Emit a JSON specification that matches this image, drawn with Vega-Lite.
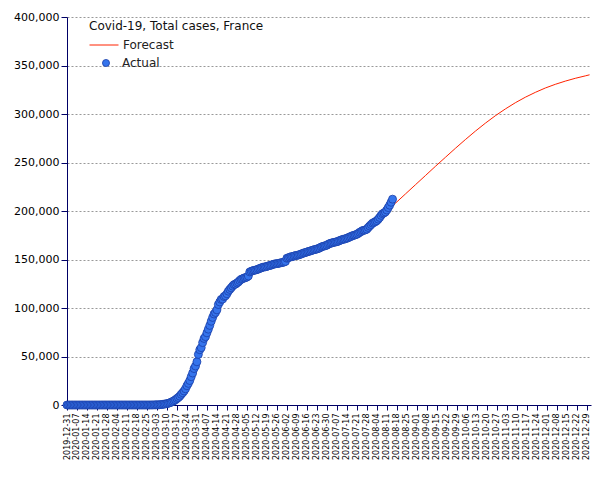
{
  "$schema": "https://vega.github.io/schema/vega-lite/v6.json",
  "width": 524,
  "height": 388,
  "autosize": {"type": "none"},
  "padding": {"left": 67, "top": 17, "right": 14, "bottom": 75},
  "background": "white",
  "config": {"view": {"stroke": null}, "font": "DejaVu Sans"},
  "datasets": {
    "actual": [
      {"date":"2019-12-31","cases":0},{"date":"2020-01-01","cases":0},{"date":"2020-01-02","cases":0},{"date":"2020-01-03","cases":0},{"date":"2020-01-04","cases":0},{"date":"2020-01-05","cases":0},{"date":"2020-01-06","cases":0},{"date":"2020-01-07","cases":0},{"date":"2020-01-08","cases":0},{"date":"2020-01-09","cases":0},{"date":"2020-01-10","cases":0},{"date":"2020-01-11","cases":0},{"date":"2020-01-12","cases":0},{"date":"2020-01-13","cases":0},{"date":"2020-01-14","cases":0},{"date":"2020-01-15","cases":0},{"date":"2020-01-16","cases":0},{"date":"2020-01-17","cases":0},{"date":"2020-01-18","cases":0},{"date":"2020-01-19","cases":0},{"date":"2020-01-20","cases":0},{"date":"2020-01-21","cases":0},{"date":"2020-01-22","cases":0},{"date":"2020-01-23","cases":0},{"date":"2020-01-24","cases":0},
      {"date":"2020-01-25","cases":3},{"date":"2020-01-26","cases":3},{"date":"2020-01-27","cases":3},{"date":"2020-01-28","cases":3},{"date":"2020-01-29","cases":4},{"date":"2020-01-30","cases":5},{"date":"2020-01-31","cases":6},
      {"date":"2020-02-01","cases":6},{"date":"2020-02-02","cases":6},{"date":"2020-02-03","cases":6},{"date":"2020-02-04","cases":6},{"date":"2020-02-05","cases":6},{"date":"2020-02-06","cases":6},{"date":"2020-02-07","cases":6},{"date":"2020-02-08","cases":11},{"date":"2020-02-09","cases":11},{"date":"2020-02-10","cases":11},{"date":"2020-02-11","cases":11},{"date":"2020-02-12","cases":11},{"date":"2020-02-13","cases":11},{"date":"2020-02-14","cases":11},{"date":"2020-02-15","cases":12},{"date":"2020-02-16","cases":12},{"date":"2020-02-17","cases":12},{"date":"2020-02-18","cases":12},{"date":"2020-02-19","cases":12},{"date":"2020-02-20","cases":12},{"date":"2020-02-21","cases":12},{"date":"2020-02-22","cases":12},{"date":"2020-02-23","cases":12},{"date":"2020-02-24","cases":12},{"date":"2020-02-25","cases":12},{"date":"2020-02-26","cases":14},{"date":"2020-02-27","cases":18},{"date":"2020-02-28","cases":38},{"date":"2020-02-29","cases":57},
      {"date":"2020-03-01","cases":100},{"date":"2020-03-02","cases":130},{"date":"2020-03-03","cases":191},{"date":"2020-03-04","cases":212},{"date":"2020-03-05","cases":285},{"date":"2020-03-06","cases":423},{"date":"2020-03-07","cases":613},{"date":"2020-03-08","cases":949},{"date":"2020-03-09","cases":1126},{"date":"2020-03-10","cases":1412},{"date":"2020-03-11","cases":1784},{"date":"2020-03-12","cases":2281},{"date":"2020-03-13","cases":2876},{"date":"2020-03-14","cases":3661},{"date":"2020-03-15","cases":4499},{"date":"2020-03-16","cases":5423},{"date":"2020-03-17","cases":6633},{"date":"2020-03-18","cases":7730},{"date":"2020-03-19","cases":9134},{"date":"2020-03-20","cases":10995},{"date":"2020-03-21","cases":12612},{"date":"2020-03-22","cases":14459},{"date":"2020-03-23","cases":16689},{"date":"2020-03-24","cases":19856},{"date":"2020-03-25","cases":22302},{"date":"2020-03-26","cases":25233},{"date":"2020-03-27","cases":29155},{"date":"2020-03-28","cases":32964},{"date":"2020-03-29","cases":37575},{"date":"2020-03-30","cases":40174},{"date":"2020-03-31","cases":44550},
      {"date":"2020-04-01","cases":52128},{"date":"2020-04-02","cases":56989},{"date":"2020-04-03","cases":59105},{"date":"2020-04-04","cases":64338},{"date":"2020-04-05","cases":68605},{"date":"2020-04-06","cases":70478},{"date":"2020-04-07","cases":74390},{"date":"2020-04-08","cases":78167},{"date":"2020-04-09","cases":82048},{"date":"2020-04-10","cases":86334},{"date":"2020-04-11","cases":90276},{"date":"2020-04-12","cases":93790},{"date":"2020-04-13","cases":95403},{"date":"2020-04-14","cases":98076},{"date":"2020-04-15","cases":103573},{"date":"2020-04-16","cases":106206},{"date":"2020-04-17","cases":108847},{"date":"2020-04-18","cases":109252},{"date":"2020-04-19","cases":111821},{"date":"2020-04-20","cases":112606},{"date":"2020-04-21","cases":114657},{"date":"2020-04-22","cases":117324},{"date":"2020-04-23","cases":119151},{"date":"2020-04-24","cases":120804},{"date":"2020-04-25","cases":122577},{"date":"2020-04-26","cases":124114},{"date":"2020-04-27","cases":124575},{"date":"2020-04-28","cases":125770},{"date":"2020-04-29","cases":126835},{"date":"2020-04-30","cases":128339},
      {"date":"2020-05-01","cases":129581},{"date":"2020-05-02","cases":130185},{"date":"2020-05-03","cases":130979},{"date":"2020-05-04","cases":131287},{"date":"2020-05-05","cases":131863},{"date":"2020-05-06","cases":132967},{"date":"2020-05-07","cases":137150},{"date":"2020-05-08","cases":137779},{"date":"2020-05-09","cases":138421},{"date":"2020-05-10","cases":138854},{"date":"2020-05-11","cases":139063},{"date":"2020-05-12","cases":139519},{"date":"2020-05-13","cases":140227},{"date":"2020-05-14","cases":140734},{"date":"2020-05-15","cases":141356},{"date":"2020-05-16","cases":141919},{"date":"2020-05-17","cases":142291},{"date":"2020-05-18","cases":142411},{"date":"2020-05-19","cases":142903},{"date":"2020-05-20","cases":143427},{"date":"2020-05-21","cases":143845},{"date":"2020-05-22","cases":144163},{"date":"2020-05-23","cases":144806},{"date":"2020-05-24","cases":145279},{"date":"2020-05-25","cases":145555},{"date":"2020-05-26","cases":145746},{"date":"2020-05-27","cases":146000},{"date":"2020-05-28","cases":146300},{"date":"2020-05-29","cases":146700},{"date":"2020-05-30","cases":147000},{"date":"2020-05-31","cases":147300},
      {"date":"2020-06-01","cases":148000},{"date":"2020-06-02","cases":151300},{"date":"2020-06-03","cases":151700},{"date":"2020-06-04","cases":152400},{"date":"2020-06-05","cases":152900},{"date":"2020-06-06","cases":153000},{"date":"2020-06-07","cases":153600},{"date":"2020-06-08","cases":154100},{"date":"2020-06-09","cases":154200},{"date":"2020-06-10","cases":154600},{"date":"2020-06-11","cases":155100},{"date":"2020-06-12","cases":155600},{"date":"2020-06-13","cases":156300},{"date":"2020-06-14","cases":156800},{"date":"2020-06-15","cases":157200},{"date":"2020-06-16","cases":157700},{"date":"2020-06-17","cases":158200},{"date":"2020-06-18","cases":158600},{"date":"2020-06-19","cases":159100},{"date":"2020-06-20","cases":159600},{"date":"2020-06-21","cases":160100},{"date":"2020-06-22","cases":160400},{"date":"2020-06-23","cases":160800},{"date":"2020-06-24","cases":161300},{"date":"2020-06-25","cases":161900},{"date":"2020-06-26","cases":162900},{"date":"2020-06-27","cases":163400},{"date":"2020-06-28","cases":163900},{"date":"2020-06-29","cases":164200},{"date":"2020-06-30","cases":164800},
      {"date":"2020-07-01","cases":165700},{"date":"2020-07-02","cases":166400},{"date":"2020-07-03","cases":166900},{"date":"2020-07-04","cases":167300},{"date":"2020-07-05","cases":167700},{"date":"2020-07-06","cases":168000},{"date":"2020-07-07","cases":168300},{"date":"2020-07-08","cases":168800},{"date":"2020-07-09","cases":169600},{"date":"2020-07-10","cases":170100},{"date":"2020-07-11","cases":170700},{"date":"2020-07-12","cases":171000},{"date":"2020-07-13","cases":171300},{"date":"2020-07-14","cases":172000},{"date":"2020-07-15","cases":172400},{"date":"2020-07-16","cases":173300},{"date":"2020-07-17","cases":173800},{"date":"2020-07-18","cases":174600},{"date":"2020-07-19","cases":175000},{"date":"2020-07-20","cases":175400},{"date":"2020-07-21","cases":176000},{"date":"2020-07-22","cases":176900},{"date":"2020-07-23","cases":178000},{"date":"2020-07-24","cases":178800},{"date":"2020-07-25","cases":179800},{"date":"2020-07-26","cases":180100},{"date":"2020-07-27","cases":180500},{"date":"2020-07-28","cases":181300},{"date":"2020-07-29","cases":183000},{"date":"2020-07-30","cases":184500},{"date":"2020-07-31","cases":186000},
      {"date":"2020-08-01","cases":187500},{"date":"2020-08-02","cases":188200},{"date":"2020-08-03","cases":189000},{"date":"2020-08-04","cases":190000},{"date":"2020-08-05","cases":191600},{"date":"2020-08-06","cases":193300},{"date":"2020-08-07","cases":195500},{"date":"2020-08-08","cases":197200},{"date":"2020-08-09","cases":198000},{"date":"2020-08-10","cases":199000},{"date":"2020-08-11","cases":201000},{"date":"2020-08-12","cases":203500},{"date":"2020-08-13","cases":206000},{"date":"2020-08-14","cases":209000},{"date":"2020-08-15","cases":212200}
    ],
    "forecast": [
      {"date":"2020-06-01","cases":148800},{"date":"2020-06-08","cases":153500},{"date":"2020-06-15","cases":156800},{"date":"2020-06-22","cases":160000},{"date":"2020-06-29","cases":163800},{"date":"2020-07-06","cases":167600},{"date":"2020-07-13","cases":171000},{"date":"2020-07-20","cases":175000},{"date":"2020-07-27","cases":180000},{"date":"2020-08-03","cases":187500},{"date":"2020-08-10","cases":198500},{"date":"2020-08-17","cases":208000},{"date":"2020-08-24","cases":217500},{"date":"2020-08-31","cases":227000},{"date":"2020-09-07","cases":236500},{"date":"2020-09-14","cases":246000},{"date":"2020-09-21","cases":255300},{"date":"2020-09-28","cases":264600},{"date":"2020-10-05","cases":273600},{"date":"2020-10-12","cases":282300},{"date":"2020-10-19","cases":290500},{"date":"2020-10-26","cases":298200},{"date":"2020-11-02","cases":305200},{"date":"2020-11-09","cases":311600},{"date":"2020-11-16","cases":317300},{"date":"2020-11-23","cases":322300},{"date":"2020-11-30","cases":326800},{"date":"2020-12-07","cases":330600},{"date":"2020-12-14","cases":333900},{"date":"2020-12-21","cases":336800},{"date":"2020-12-28","cases":339300},{"date":"2020-12-31","cases":340400}
    ]
  },
  "encoding": {
    "x": {
      "field": "date",
      "type": "temporal",
      "scale": {"type": "utc", "domain": [1577750400000, 1609459200000], "nice": false},
      "axis": {
        "title": null,
        "values": [1577750400000,1578355200000,1578960000000,1579564800000,1580169600000,1580774400000,1581379200000,1581984000000,1582588800000,1583193600000,1583798400000,1584403200000,1585008000000,1585612800000,1586217600000,1586822400000,1587427200000,1588032000000,1588636800000,1589241600000,1589846400000,1590451200000,1591056000000,1591660800000,1592265600000,1592870400000,1593475200000,1594080000000,1594684800000,1595289600000,1595894400000,1596499200000,1597104000000,1597708800000,1598313600000,1598918400000,1599523200000,1600128000000,1600732800000,1601337600000,1601942400000,1602547200000,1603152000000,1603756800000,1604361600000,1604966400000,1605571200000,1606176000000,1606780800000,1607385600000,1607990400000,1608595200000,1609200000000],
        "labelExpr": "utcFormat(datum.value, '%Y-%m-%d')",
        "labelAngle": -90,
        "labelFont": "DejaVu Sans",
        "labelFontSize": 8,
        "labelColor": "#000000",
        "labelPadding": 3,
        "labelOverlap": false,
        "labelBound": false,
        "labelFlush": false,
        "tickSize": 5,
        "tickColor": "#000066",
        "domainColor": "#000066",
        "grid": false
      }
    },
    "y": {
      "field": "cases",
      "type": "quantitative",
      "scale": {"domain": [0, 400000], "nice": false},
      "axis": {
        "title": null,
        "values": [0,50000,100000,150000,200000,250000,300000,350000,400000],
        "labelExpr": "format(datum.value, ',.0f')",
        "labelFont": "DejaVu Sans",
        "labelFontSize": 11,
        "labelColor": "#000000",
        "labelPadding": 2,
        "tickSize": 6,
        "tickColor": "#000066",
        "domainColor": "#000066",
        "grid": true,
        "gridColor": "#999999",
        "gridDash": [2, 2],
        "gridWidth": 1
      }
    }
  },
  "layer": [
    {
      "data": {"name": "forecast"},
      "mark": {"type": "line", "strokeWidth": 1, "interpolate": "monotone"},
      "encoding": {
        "stroke": {
          "datum": "Forecast",
          "scale": {"domain": ["Forecast"], "range": ["#ff2200"]},
          "legend": {
            "orient": "none",
            "legendX": 22,
            "legendY": 4,
            "padding": 0,
            "title": "Covid-19, Total cases, France",
            "titleFont": "DejaVu Sans",
            "titleFontSize": 12,
            "titleFontWeight": "normal",
            "titleColor": "#111111",
            "titlePadding": -3,
            "symbolType": "stroke",
            "symbolSize": 841,
            "symbolStrokeWidth": 1,
            "labelFont": "DejaVu Sans",
            "labelFontSize": 12,
            "labelColor": "#222222",
            "labelOffset": 4
          }
        }
      }
    },
    {
      "data": {"name": "actual"},
      "mark": {"type": "point", "filled": true, "size": 64, "opacity": 1, "stroke": "#1a3fa8", "strokeWidth": 0.8},
      "encoding": {
        "fill": {
          "datum": "Actual",
          "scale": {"domain": ["Actual"], "range": ["#3574ec"]},
          "legend": {
            "orient": "none",
            "legendX": 33,
            "legendY": 40,
            "padding": 0,
            "title": null,
            "symbolType": "circle",
            "symbolSize": 50,
            "symbolStrokeColor": "#1a3fa8",
            "symbolStrokeWidth": 0.8,
            "labelFont": "DejaVu Sans",
            "labelFontSize": 12,
            "labelColor": "#222222",
            "labelOffset": 10
          }
        }
      }
    }
  ]
}
